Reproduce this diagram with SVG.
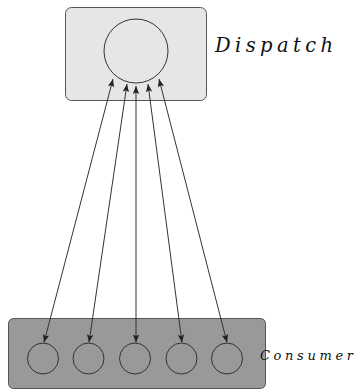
<svg xmlns="http://www.w3.org/2000/svg" width="355" height="392" viewBox="0 0 355 392">
  <style>
    .box { stroke: #555; stroke-width: 1; }
    .node { fill: none; stroke: #333; stroke-width: 1; }
    .link { stroke: #333; stroke-width: 1; fill: none; marker-start: url(#tip); marker-end: url(#tip); }
    .label { font-family: "DejaVu Serif", "Liberation Serif", serif; font-style: italic; fill: #111; }
  </style>
  <defs>
    <marker id="tip" viewBox="0 0 10 10" refX="10" refY="5" markerWidth="8" markerHeight="8" markerUnits="userSpaceOnUse" orient="auto-start-reverse">
      <path d="M0,1 L10,5 L0,9 L2,5 Z" fill="#222"/>
    </marker>
  </defs>

  <g id="dispatch">
    <rect class="box" x="65.5" y="7.5" width="141" height="93" rx="6" fill="#e6e6e6"/>
    <circle class="node" cx="136" cy="51" r="32"/>
    <text class="label" x="215" y="52" font-size="19.5" textLength="118" lengthAdjust="spacing">Dispatch</text>
  </g>

  <g id="consumer">
    <rect class="box" x="8.5" y="318.5" width="257" height="70" rx="5" fill="#999"/>
    <circle class="node" cx="43" cy="358.5" r="15.5"/>
    <circle class="node" cx="88.5" cy="358.5" r="15.5"/>
    <circle class="node" cx="135" cy="358.5" r="15.5"/>
    <circle class="node" cx="181.5" cy="358.5" r="15.5"/>
    <circle class="node" cx="227" cy="358.5" r="15.5"/>
    <text class="label" x="260" y="360" font-size="13" textLength="93" lengthAdjust="spacing">Consumer</text>
  </g>

  <g id="connectors">
    <line class="link" x1="113" y1="79" x2="44" y2="342.5"/>
    <line class="link" x1="127" y1="84" x2="89" y2="342.5"/>
    <line class="link" x1="136" y1="86" x2="136" y2="342.5"/>
    <line class="link" x1="148" y1="84" x2="182" y2="342.5"/>
    <line class="link" x1="159" y1="79" x2="227" y2="342.5"/>
  </g>
</svg>
